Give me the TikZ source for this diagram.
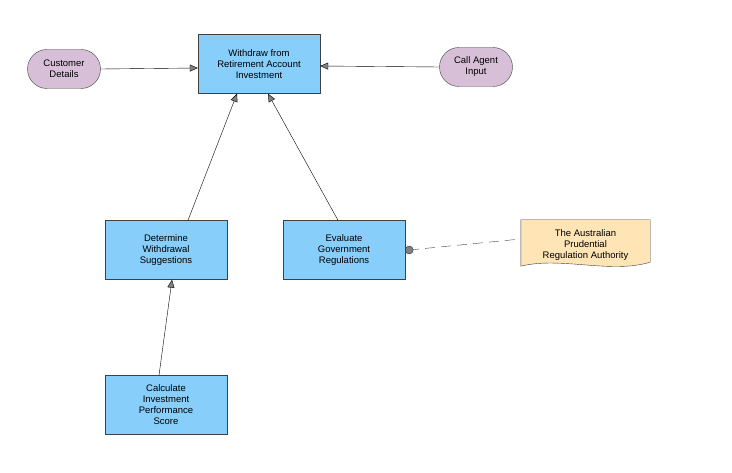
\documentclass[tikz,border=0pt]{standalone}
\usepackage{fontspec}
\setmainfont{Liberation Sans}
\usetikzlibrary{arrows.meta,shapes.misc}
\definecolor{boxblue}{HTML}{87CEFA}
\definecolor{pill}{HTML}{D8BFD8}
\definecolor{docf}{HTML}{FFE4B5}
\definecolor{edge}{HTML}{404040}
\tikzset{
 proc/.style={draw=edge,fill=boxblue,minimum width=122pt,minimum height=59pt,align=center,font=\fontsize{9.5}{11}\selectfont,inner sep=1pt},
 term/.style={draw=edge,fill=pill,rounded rectangle,minimum width=75pt,minimum height=39pt,align=center,font=\fontsize{9.5}{11}\selectfont,inner sep=1pt},
 conn/.style={draw=black,-{Triangle[length=8pt,width=7pt,fill=gray]}},
}
\begin{document}
\begin{tikzpicture}[x=1pt,y=-1pt]
\useasboundingbox (0,0) rectangle (732,473);
\node[proc] (w) at (259,64) {Withdraw from\\Retirement Account\\Investment};
\node[term] (cd) at (64,69) {Customer\\Details};
\node[term] (ca) at (476,67) {Call Agent\\Input};
\node[proc] (d) at (166,250) {Determine\\Withdrawal\\Suggestions};
\node[proc] (e) at (344,250) {Evaluate\\Government\\Regulations};
\node[proc] (c) at (166,405) {Calculate\\Investment\\Performance\\Score};
\node[minimum width=129pt,minimum height=50pt,align=center,font=\fontsize{9.5}{11}\selectfont] (doc) at (585.5,245) {The Australian\\Prudential\\Regulation Authority};
\draw[draw=edge,fill=docf] (doc.north west) -- (doc.north east) -- ([yshift=8pt]doc.south east)
  .. controls ([xshift=-40pt,yshift=-4pt]doc.south east) and ([xshift=40pt,yshift=14pt]doc.south west) .. ([yshift=4pt]doc.south west) -- cycle;
\node[minimum width=129pt,minimum height=50pt,align=center,font=\fontsize{9.5}{11}\selectfont] at (585.5,245) {The Australian\\Prudential\\Regulation Authority};
\draw[conn] (cd.east) -- (w.west |- 0,68);
\draw[conn] (ca.west) -- (w.east |- 0,66);
\draw[conn] ([xshift=22pt]d.north) -- ([xshift=-22pt]w.south);
\draw[conn] ([xshift=-6pt]e.north) -- ([xshift=9pt]w.south);
\draw[conn] ([xshift=-7pt]c.north) -- ([xshift=6pt]d.south);
\coordinate (dl) at ([yshift=6pt]doc.west);
\draw[edge,dashed,dash pattern=on 10pt off 6pt] ([xshift=4pt]e.east) -- (dl);
\fill[gray,draw=black!80] ([xshift=4pt]e.east) circle (4pt);
\end{tikzpicture}
\end{document}
